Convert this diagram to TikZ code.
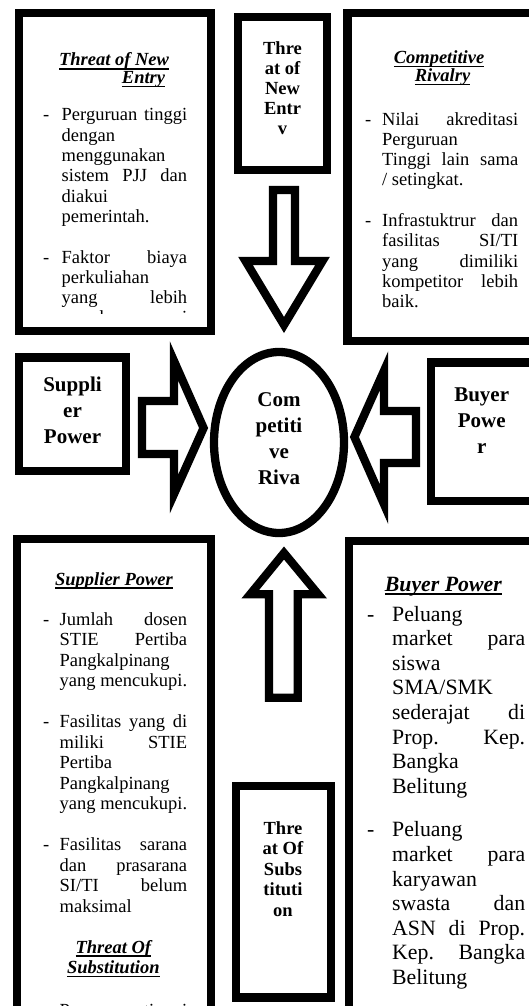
\documentclass[tikz,border=0pt]{standalone}
\usepackage{fontspec}
\setmainfont{Liberation Serif}
\newsavebox\ulbx
\newcommand\ulin[1]{\sbox\ulbx{#1}\rlap{\rule[-3.8pt]{\wd\ulbx}{1.4pt}}\usebox\ulbx}
\newlength\indw
\newcommand\blk[4]{\vtop{\hsize=#1\relax\indw=#2\relax\baselineskip=#3\relax\lineskiplimit=-50pt\lineskip=0pt\parindent=0pt\parskip=0pt #4}}
\newcommand\Dj[1]{\hbox to\hsize{\hbox to\indw{-\hfil}#1}}
\newcommand\Dl[1]{\hbox to\hsize{\hbox to\indw{-\hfil}#1\hfil}}
\newcommand\Cj[1]{\hbox to\hsize{\hskip\indw\relax #1}}
\newcommand\Cl[1]{\hbox to\hsize{\hskip\indw\relax #1\hfil}}
\newcommand\Cc[1]{\hbox to\hsize{\hfil #1\hfil}}
\newcommand\Gap[1]{\vskip #1\relax}
\newcommand\fb{\fontsize{18.5pt}{20.3pt}\selectfont}
\newcommand\ftit{\fontsize{18.5pt}{20.3pt}\selectfont\bfseries\itshape}
\newcommand\fbb{\fontsize{18.5pt}{20.3pt}\selectfont\bfseries}
\newcommand\fbig{\fontsize{21pt}{26pt}\selectfont\bfseries}
\newcommand\fbr{\fontsize{21.8pt}{25pt}\selectfont}
\newcommand\fbrt{\fontsize{21.8pt}{25pt}\selectfont\bfseries\itshape}
\begin{document}
\begin{tikzpicture}[x=1pt,y=-1pt,
  frame/.style={draw=black,line width=8.3pt},
  blockarrow/.style={draw=black,line width=8.3pt,line join=miter,fill=white},
  txt/.style={inner sep=0pt,anchor=base west},
  ctxt/.style={inner sep=0pt,anchor=base}]
\useasboundingbox[fill=white] (0,0) rectangle (529,1006);
% frames
\draw[frame] (19.2,12.8) rectangle (210.8,331);
\draw[frame] (238,16.7) rectangle (327.2,170);
\draw[frame] (347.5,12.8) rectangle (545,340.8);
\draw[frame] (19.2,357.5) rectangle (125.8,470.8);
\draw[frame] (430.8,362.5) rectangle (545,500.8);
\draw[frame] (279,442.5) ellipse [x radius=65pt, y radius=90.5pt];
\draw[frame] (17.3,539) rectangle (211,1030);
\draw[frame] (235.8,785.8) rectangle (331,997.5);
\draw[frame] (349,540.8) rectangle (545,1030);
% block arrows
\draw[blockarrow] (273,190) -- (295,190) -- (295,261) -- (322.5,261) -- (284,325) -- (245.5,261) -- (273,261) -- cycle;
\draw[blockarrow] (142,401) -- (174,401) -- (174,361) -- (203.6,428) -- (174,494) -- (174,454) -- (142,454) -- cycle;
\draw[blockarrow] (416,411) -- (384,411) -- (384,370.8) -- (354.4,437) -- (384,504.2) -- (384,463) -- (416,463) -- cycle;
\draw[blockarrow] (269,697.7) -- (269,594.3) -- (250.2,594.3) -- (284,553) -- (318.2,594.3) -- (297.7,594.3) -- (297.7,697.7) -- cycle;
% top-left box
\node[ctxt,font=\ftit] (tlt1) at (114,66) {\ulin{Threat of New}};
\node[ctxt,font=\ftit] (tlt2) at (143.5,83.5) {\ulin{Entry}};
\begin{scope}
\clip (23.5,17) rectangle (206.5,313.5);
\node[txt,font=\fb] (tlbody) at (43,121) {\blk{144pt}{18.5pt}{20.3pt}{%
\Dj{Perguruan tinggi}\Cl{dengan}\Cl{menggunakan}\Cj{sistem PJJ dan}\Cl{diakui}\Cl{pemerintah.}%
\Gap{20.3pt}%
\Dj{Faktor biaya}\Cl{perkuliahan}\Cj{yang lebih}\Cj{murah sesuai}}};
\end{scope}
% top centre
\node[ctxt,font=\fbb] (tc) at (282.5,55) {\blk{80pt}{0pt}{20pt}{\Cc{Thre}\Cc{at of}\Cc{New}\Cc{Entr}\Cc{v}}};
% top-right box
\node[ctxt,font=\ftit] (trt1) at (439,63.5) {\ulin{Competitive}};
\node[ctxt,font=\ftit] (trt2) at (442.5,81.5) {\ulin{Rivalry}};
\node[txt,font=\fb] (trbody) at (365,125) {\blk{153pt}{17pt}{20.3pt}{%
\Dj{Nilai akreditasi}\Cl{Perguruan}\Cj{Tinggi lain sama}\Cl{/ setingkat.}%
\Gap{20.3pt}%
\Dj{Infrastuktrur dan}\Cj{fasilitas SI/TI}\Cj{yang dimiliki}\Cj{kompetitor lebih}\Cl{baik.}}};
% middle row
\node[ctxt,font=\fbig] (sp) at (72.5,391) {\blk{100pt}{0pt}{26.2pt}{\Cc{Suppli}\Cc{er}\Cc{Power}}};
\node[ctxt,font=\fbig] (cr) at (279,406) {\blk{100pt}{0pt}{26.2pt}{\Cc{Com}\Cc{petiti}\Cc{ve}\Cc{Riva}}};
\node[ctxt,font=\fbig] (bp) at (481.7,401) {\blk{100pt}{0pt}{26pt}{\Cc{Buyer}\Cc{Powe}\Cc{r}}};
% bottom-left box
\node[ctxt,font=\ftit] (blt1) at (114,585) {\ulin{Supplier Power}};
\node[txt,font=\fb] (blbody) at (43,625) {\blk{144pt}{16.5pt}{20.5pt}{%
\Dj{Jumlah dosen}\Cj{STIE Pertiba}\Cl{Pangkalpinang}\Cl{yang mencukupi.}%
\Gap{20.5pt}%
\Dj{Fasilitas yang di}\Cj{miliki STIE}\Cl{Pertiba}\Cl{Pangkalpinang}\Cl{yang mencukupi.}%
\Gap{20.5pt}%
\Dj{Fasilitas sarana}\Cj{dan prasarana}\Cj{SI/TI belum}\Cl{maksimal}}};
\node[ctxt,font=\ftit] (blt2) at (113.3,953) {\ulin{Threat Of}};
\node[ctxt,font=\ftit] (blt3) at (113.3,973.5) {\ulin{Substitution}};
\node[txt,font=\fb] (blcut) at (43,1016) {\blk{144pt}{16.5pt}{20.5pt}{\Dj{Perguruan tinggi}}};
% bottom centre
\node[ctxt,font=\fbb] (bc) at (283,834) {\blk{90pt}{0pt}{20.5pt}{\Cc{Thre}\Cc{at Of}\Cc{Subs}\Cc{tituti}\Cc{on}}};
% bottom-right box
\node[ctxt,font=\fbrt] (brt) at (443.3,591) {\ulin{Buyer Power}};
\node[txt,font=\fbr] (brbody) at (367,621) {\blk{158pt}{25pt}{24.6pt}{%
\Dl{Peluang}\Cj{market para}\Cl{siswa}\Cl{SMA/SMK}\Cj{sederajat di}\Cj{Prop. Kep.}\Cl{Bangka}\Cl{Belitung}%
\Gap{19pt}%
\Dl{Peluang}\Cj{market para}\Cl{karyawan}\Cj{swasta dan}\Cj{ASN di Prop.}\Cj{Kep. Bangka}\Cl{Belitung}}};
\end{tikzpicture}
\end{document}
